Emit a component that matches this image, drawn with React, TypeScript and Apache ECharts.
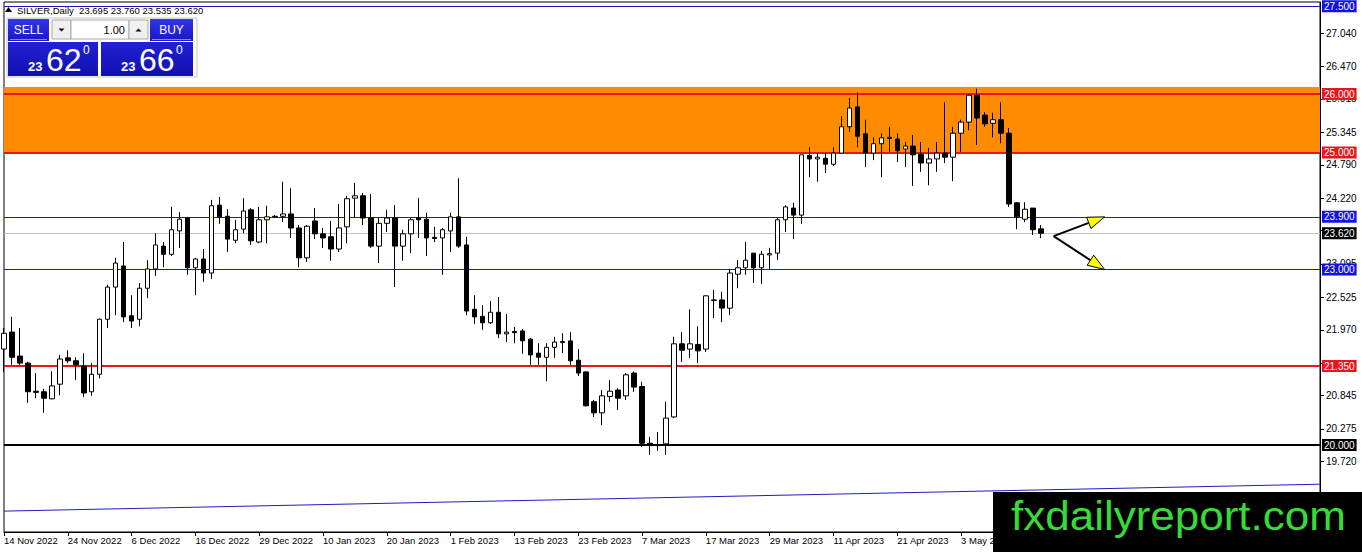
import { useEffect, useRef } from 'react'
import * as echarts from 'echarts'

// ── data ──────────────────────────────────────────────────────────
const monthDays: [string, number[]][] = [
  ['Nov 2022', [14, 15, 16, 17, 18, 21, 22, 23, 24, 25, 28, 29, 30]],
  ['Dec 2022', [1, 2, 5, 6, 7, 8, 9, 12, 13, 14, 15, 16, 19, 20, 21, 22, 23, 27, 28, 29, 30]],
  ['Jan 2023', [2, 3, 4, 5, 6, 9, 10, 11, 12, 13, 16, 17, 18, 19, 20, 23, 24, 25, 26, 27, 30, 31]],
  ['Feb 2023', [1, 2, 3, 6, 7, 8, 9, 10, 13, 14, 15, 16, 17, 20, 21, 22, 23, 24, 27, 28]],
  ['Mar 2023', [1, 2, 3, 6, 7, 8, 9, 10, 13, 14, 15, 16, 17, 20, 21, 22, 23, 24, 27, 28, 29, 30, 31]],
  ['Apr 2023', [3, 4, 5, 6, 10, 11, 12, 13, 14, 17, 18, 19, 20, 21, 24, 25, 26, 27, 28]],
  ['May 2023', [1, 2, 3, 4, 5, 8, 9, 10, 11, 12, 15, 16, 17]],
]
const dates = monthDays.flatMap(([m, days]) => days.map((d) => `${d} ${m}`))

const opens = [
  21.64, 21.93, 21.52, 21.40, 20.92, 20.91, 20.79, 21.04, 21.49, 21.44,
  21.35, 20.91, 21.21, 22.15, 22.70, 23.06, 22.21, 22.15, 22.68, 23.01,
  23.40, 23.26, 23.66, 23.88, 23.03, 23.18, 22.94, 24.10, 23.91, 23.50,
  23.69, 24.02, 23.47, 23.85, 23.90, 23.91, 23.95, 23.71, 23.20, 23.83,
  23.61, 23.56, 23.35, 23.73, 24.22, 24.26, 23.88, 23.40, 23.79, 23.88,
  23.40, 23.61, 23.88, 23.86, 23.55, 23.54, 23.66, 23.90, 23.42, 22.32,
  22.20, 22.09, 22.27, 21.90, 21.94, 21.95, 21.81, 21.57, 21.50, 21.67,
  21.75, 21.78, 21.45, 21.25, 20.74, 20.55, 20.83, 20.94, 20.84, 21.23,
  21.00, 20.03, 20.00, 20.02, 20.48, 21.73, 21.64, 21.72, 21.64, 22.48,
  22.48, 22.34, 22.92, 23.03, 23.28, 23.03, 23.25, 23.28, 23.85, 24.05,
  23.93, 24.95, 24.89, 24.90, 24.80, 24.99, 25.44, 25.78, 25.32, 24.99,
  25.15, 25.24, 25.23, 25.06, 25.11, 24.97, 24.82, 24.89, 24.99, 24.92,
  25.33, 25.52, 25.98, 25.64, 25.50, 25.56, 25.33, 24.14, 23.86, 24.05,
  23.695,
]
const highs = [
  22.00, 22.19, 22.00, 21.42, 21.23, 20.96, 21.26, 21.54, 21.62, 21.50,
  21.57, 21.40, 22.16, 22.74, 23.20, 23.47, 22.56, 22.77, 23.16, 23.62,
  23.47, 24.07, 23.98, 23.90, 23.20, 23.35, 24.19, 24.24, 24.03, 23.85,
  24.22, 24.05, 24.07, 24.09, 23.93, 24.50, 24.39, 23.76, 23.76, 24.05,
  23.71, 23.83, 24.12, 24.26, 24.48, 24.31, 24.29, 23.88, 24.02, 24.10,
  23.68, 23.88, 24.22, 23.97, 23.73, 23.71, 23.97, 24.56, 23.56, 22.56,
  22.39, 22.46, 22.53, 22.24, 22.02, 21.98, 21.83, 21.74, 21.74, 21.85,
  21.91, 21.93, 21.64, 21.26, 20.77, 20.94, 21.11, 20.97, 21.23, 21.26,
  21.08, 20.14, 20.22, 20.74, 21.85, 21.93, 22.32, 22.03, 22.56, 22.65,
  22.62, 23.01, 23.16, 23.47, 23.28, 23.32, 23.37, 23.88, 24.10, 24.14,
  24.96, 25.09, 24.99, 24.99, 25.09, 25.62, 25.93, 26.03, 25.56, 25.26,
  25.33, 25.44, 25.33, 25.18, 25.30, 25.18, 25.08, 25.18, 25.86, 25.44,
  25.56, 25.99, 26.09, 25.69, 25.68, 25.86, 25.42, 24.15, 24.15, 24.05,
  23.760,
]
const lows = [
  21.25, 21.37, 21.37, 20.72, 20.80, 20.55, 20.78, 20.85, 21.40, 21.11,
  20.82, 20.84, 21.14, 22.00, 22.22, 22.10, 22.00, 22.03, 22.51, 22.89,
  23.04, 23.23, 23.37, 22.91, 22.56, 22.79, 22.84, 23.78, 23.30, 23.45,
  23.62, 23.42, 23.45, 23.45, 23.88, 23.81, 23.54, 23.04, 23.13, 23.52,
  23.37, 23.15, 23.30, 23.45, 23.88, 23.76, 23.37, 23.11, 23.64, 22.70,
  23.15, 23.28, 23.54, 23.23, 23.47, 22.91, 23.30, 23.37, 22.22, 22.07,
  21.97, 22.07, 21.83, 21.76, 21.74, 21.56, 21.37, 21.37, 21.09, 21.49,
  21.57, 21.37, 21.18, 20.66, 20.48, 20.34, 20.74, 20.60, 20.77, 20.91,
  19.97, 19.83, 19.90, 19.83, 20.46, 21.42, 21.49, 21.40, 21.59, 22.17,
  22.10, 22.22, 22.68, 22.91, 22.77, 22.75, 22.99, 23.16, 23.64, 23.52,
  23.78, 24.58, 24.50, 24.65, 24.77, 24.98, 25.35, 25.09, 24.75, 24.87,
  24.58, 25.01, 24.84, 24.75, 24.43, 24.67, 24.44, 24.67, 24.82, 24.51,
  25.01, 25.38, 25.13, 25.44, 25.26, 25.16, 24.07, 23.69, 23.81, 23.59,
  23.535,
]
const closes = [
  21.91, 21.50, 21.40, 20.91, 20.90, 20.80, 21.01, 21.47, 21.44, 21.37,
  20.89, 21.21, 22.15, 22.70, 23.11, 22.19, 22.12, 22.68, 23.01, 23.42,
  23.26, 23.68, 23.86, 23.03, 23.18, 22.94, 24.09, 23.90, 23.52, 23.68,
  24.00, 23.49, 23.85, 23.90, 23.91, 23.95, 23.71, 23.20, 23.74, 23.61,
  23.54, 23.35, 23.71, 24.21, 24.26, 23.88, 23.40, 23.79, 23.88, 23.40,
  23.61, 23.85, 23.85, 23.54, 23.53, 23.68, 23.90, 23.40, 22.29, 22.19,
  22.09, 22.27, 21.90, 21.93, 21.92, 21.78, 21.54, 21.50, 21.67, 21.76,
  21.77, 21.44, 21.23, 20.67, 20.55, 20.84, 20.92, 20.80, 21.20, 20.99,
  20.03, 20.00, 19.99, 20.46, 21.73, 21.62, 21.73, 21.61, 22.55, 22.47,
  22.34, 22.94, 23.03, 23.16, 23.03, 23.26, 23.27, 23.85, 24.07, 23.93,
  24.96, 24.89, 24.92, 24.80, 24.99, 25.44, 25.76, 25.28, 24.99, 25.15,
  25.25, 25.26, 25.03, 25.11, 24.96, 24.82, 24.89, 24.99, 24.92, 25.33,
  25.52, 25.98, 25.59, 25.49, 25.56, 25.33, 24.12, 23.90, 24.03, 23.68,
  23.620,
]

// price levels drawn as horizontal lines with a value box on the axis
const levelPrices = [27.5, 26.0, 25.0, 23.9, 23.62, 23.0, 21.35, 20.0]
const zoneBand = [25.0, 26.12]          // orange rectangle
const trendValues = [18.87, 19.33]      // blue trend line, first slot → last slot
const yTicks = [27.04, 26.47, 25.915, 25.345, 24.79, 24.22, 23.665, 23.095, 22.525, 21.97, 21.4, 20.845, 20.275, 19.72]
const yTickLabels = [27.04, 26.47, 25.915, 25.345, 24.79, 24.22, 23.095, 22.525, 21.97, 20.845, 20.275, 19.72]
const bidAsk = [23.62, 23.66]
const lotSize = '1.00'
const symbolName = 'SILVER,Daily'
const arrowStart = [131.6, 23.57]
const arrowEnds = [[138, 23.9], [138, 23.0]]

const SLOTS = 166
const categories = dates.concat(Array.from({ length: SLOTS - dates.length }, (_, i) => `+${i + 1}`))
const ohlc = opens.map((o, i) => [o, closes[i], lows[i], highs[i]])

// ── styles ────────────────────────────────────────────────────────
const FONT = 'Liberation Sans, Arial, sans-serif'
const NAVY = '#1c1cc4'
const RED = '#e8161c'
const levelStyle = [
  { line: NAVY, width: 1, box: '#1010e8' },
  { line: RED, width: 2, box: RED },
  { line: RED, width: 2, box: RED },
  { line: NAVY, width: 1, box: '#1010e8' },
  { line: '#c0c0c0', width: 1, box: '#000' },
  { line: NAVY, width: 1, box: '#1010e8' },
  { line: RED, width: 2, box: RED },
  { line: '#000', width: 2, box: '#000' },
]

// one helper series per horizontal level, so each line keeps its own colour
function levelSeries(p: number, i: number) {
  const st = levelStyle[i]
  return {
    type: 'line',
    name: `level-${i}`,
    data: [],
    silent: true,
    color: st.line,
    markLine: {
      silent: true,
      z: 3,
      symbol: ['none', 'none'],
      lineStyle: { color: st.line, width: st.width, type: 'solid', opacity: 1 },
      label: {
        show: true, position: 'end', distance: 2,
        formatter: () => p.toFixed(3),
        color: '#fff', backgroundColor: st.box,
        fontSize: 10, fontFamily: FONT, padding: [1, 2, 0, 2], lineHeight: 11,
      },
      data: [{ yAxis: p }],
    },
  }
}

function buildOption(): echarts.EChartsOption {
  return {
    animation: false,
    backgroundColor: '#fff',
    grid: {
      left: 4, right: 42, top: 2, bottom: 20,
      show: true, borderColor: '#000', borderWidth: 1, backgroundColor: '#fff',
    },
    xAxis: {
      type: 'category',
      data: categories,
      boundaryGap: false,
      axisLine: { lineStyle: { color: '#000', width: 1 } },
      axisTick: { interval: 7, length: 4, lineStyle: { color: '#000' } },
      axisLabel: {
        interval: 7, align: 'left', margin: 3,
        color: '#000', fontSize: 9.5, fontFamily: FONT,
        formatter: (v: string, idx: number) => (idx < dates.length - 3 ? v : ''),
      },
      splitLine: { show: false },
    },
    yAxis: {
      type: 'value',
      position: 'right',
      min: 18.513, max: 27.573,
      axisLine: { show: true, lineStyle: { color: '#000' } },
      axisTick: { show: true, length: 4, customValues: yTicks, lineStyle: { color: '#000' } },
      axisLabel: {
        customValues: yTickLabels, margin: 6,
        color: '#000', fontSize: 10, fontFamily: FONT,
        formatter: (v: number) => v.toFixed(3),
      },
      splitLine: { show: false },
    },
    series: [
      {
        type: 'line',
        name: 'zone',
        data: [],
        silent: true,
        color: NAVY,
        markArea: {
          silent: true,
          z: 1,
          itemStyle: { color: '#ff8c00', opacity: 1 },
          data: [[{ yAxis: zoneBand[0] }, { yAxis: zoneBand[1] }]],
        },
        markLine: {
          silent: true,
          z: 3,
          symbol: ['none', 'none'],
          lineStyle: { color: NAVY, width: 1, type: 'solid' },
          label: { show: false },
          data: [[{ coord: [0, trendValues[0]] }, { coord: [SLOTS - 1, trendValues[1]] }]],
        },
      },
      ...levelPrices.map(levelSeries),
      {
        type: 'candlestick',
        data: ohlc,
        barWidth: 5,
        z: 10,
        itemStyle: {
          color: '#fff', color0: '#000',
          borderColor: '#000', borderColor0: '#000', borderColorDoji: '#000',
          borderWidth: 1,
        },
      },
    ],
  } as echarts.EChartsOption
}

// ── overlay graphics: header, trade panel, watermark, arrows ──────
function panelGraphics(): any[] {
  const last = opens.length - 1
  const header = [opens[last], highs[last], lows[last], closes[last]].map((v) => v.toFixed(3)).join(' ')
  const blueBtn = new echarts.graphic.LinearGradient(0, 0, 0, 1, [
    { offset: 0, color: '#3434ea' }, { offset: 1, color: '#1818c8' },
  ])
  const blueBox = () => new echarts.graphic.LinearGradient(0, 0, 0, 1, [
    { offset: 0, color: '#2222d4' }, { offset: 1, color: '#1010b0' },
  ])
  const txt = (x: number, y: number, text: string, size: number, fill: string, align = 'left', weight = 'normal') => ({
    type: 'text', x, y, z: 101,
    style: { text, fill, fontSize: size, fontFamily: FONT, fontWeight: weight, align, verticalAlign: 'middle', textAlign: align, textVerticalAlign: 'middle' },
  })
  const priceBox = (x: number, w: number, price: number) => {
    const s = price.toFixed(3)
    const big = s.slice(3, 5)
    const small = s.slice(0, 2)
    const sup = s.slice(5)
    return [
      { type: 'rect', shape: { x, y: 42, width: w, height: 34 }, style: { fill: blueBox() }, z: 100 },
      txt(x + 20, 66, small, 13, '#fff', 'left', 'bold'),
      txt(x + 38, 60, big, 32, '#fff'),
      txt(x + 75, 50, sup === '' ? '0' : sup, 12, '#fff'),
    ]
  }
  return [
    { type: 'polygon', shape: { points: [[5, 12], [8.5, 7], [12, 12]] }, style: { fill: '#000' }, z: 100 },
    txt(17, 10, `${symbolName}  ${header}`, 9.5, '#000'),
    { type: 'rect', shape: { x: 7, y: 18, width: 190, height: 59 }, style: { fill: '#fff', stroke: '#c4c4c4' }, z: 99 },
    { type: 'rect', shape: { x: 8, y: 19, width: 41, height: 22 }, style: { fill: blueBtn }, z: 100 },
    { type: 'line', shape: { x1: 10, y1: 39.5, x2: 47, y2: 39.5 }, style: { stroke: '#8a8aff', lineWidth: 1 }, z: 101 },
    txt(28.5, 30, 'SELL', 12, '#fff', 'center'),
    { type: 'rect', shape: { x: 52, y: 20, width: 19, height: 19 }, style: { fill: '#f0f0f0', stroke: '#a8a8a8' }, z: 100 },
    { type: 'polygon', shape: { points: [[58.5, 28.5], [64.5, 28.5], [61.5, 31.5]] }, style: { fill: '#000' }, z: 101 },
    { type: 'rect', shape: { x: 71, y: 20, width: 58, height: 19 }, style: { fill: '#fff', stroke: '#a8a8a8' }, z: 100 },
    txt(125, 30, lotSize, 11, '#000', 'right'),
    { type: 'rect', shape: { x: 129, y: 20, width: 19, height: 19 }, style: { fill: '#f0f0f0', stroke: '#a8a8a8' }, z: 100 },
    { type: 'polygon', shape: { points: [[135.5, 31.5], [141.5, 31.5], [138.5, 28.5]] }, style: { fill: '#000' }, z: 101 },
    { type: 'rect', shape: { x: 150, y: 19, width: 43, height: 22 }, style: { fill: blueBtn }, z: 100 },
    { type: 'line', shape: { x1: 152, y1: 39.5, x2: 191, y2: 39.5 }, style: { stroke: '#8a8aff', lineWidth: 1 }, z: 101 },
    txt(171.5, 30, 'BUY', 12, '#fff', 'center'),
    ...priceBox(8, 90, bidAsk[0]),
    ...priceBox(101, 92, bidAsk[1]),
    // watermark
    { type: 'rect', shape: { x: 993, y: 492, width: 369, height: 60 }, style: { fill: '#000' }, z: 100 },
    {
      type: 'text', x: 1011, y: 516, scaleX: 1.1, z: 101,
      style: { text: 'fxdailyreport.com', fill: '#36dc36', fontSize: 40, fontFamily: FONT, verticalAlign: 'middle', textVerticalAlign: 'middle' },
    },
  ]
}

function arrowGraphics(chart: echarts.ECharts): any[] {
  const toPx = (i: number, v: number) => {
    const a = chart.convertToPixel({ gridIndex: 0 }, [Math.floor(i), v]) as number[]
    const b = chart.convertToPixel({ gridIndex: 0 }, [Math.floor(i) + 1, v]) as number[]
    const f = i - Math.floor(i)
    return [a[0] + (b[0] - a[0]) * f, a[1]]
  }
  const from = toPx(arrowStart[0], arrowStart[1])
  const out: any[] = []
  arrowEnds.forEach(([i, v]) => {
    const tip = toPx(i, v)
    const dx = tip[0] - from[0], dy = tip[1] - from[1]
    const len = Math.hypot(dx, dy)
    const ux = dx / len, uy = dy / len
    const bx = tip[0] - ux * 17, by = tip[1] - uy * 17
    const nx = -uy * 6, ny = ux * 6
    out.push({
      type: 'line', z: 100,
      shape: { x1: from[0], y1: from[1], x2: bx, y2: by },
      style: { stroke: '#000', lineWidth: 2 },
    })
    out.push({
      type: 'polygon', z: 101,
      shape: { points: [tip, [bx + nx, by + ny], [bx - nx, by - ny]] },
      style: { fill: '#ffff00', stroke: '#000', lineWidth: 1 },
    })
  })
  return out
}

export default function App() {
  const ref = useRef<HTMLDivElement>(null)

  useEffect(() => {
    document.body.style.margin = '0'
    if (!ref.current) return
    const chart = echarts.init(ref.current, undefined, { renderer: 'svg' })
    chart.setOption(buildOption())
    chart.setOption({ graphic: [...panelGraphics(), ...arrowGraphics(chart)] })
    return () => chart.dispose()
  }, [])

  return <div ref={ref} style={{ width: 1362, height: 552 }} />
}
